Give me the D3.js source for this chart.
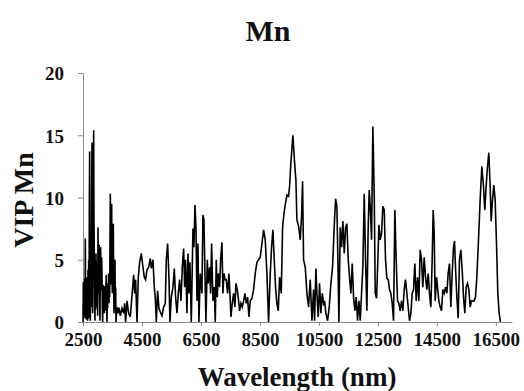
<!DOCTYPE html>
<html>
<head>
<meta charset="utf-8">
<script src="https://cdn.jsdelivr.net/npm/d3@7"></script>
<style>
  body { margin: 0; background: #fff; }
  svg text { font-family: "Liberation Serif", "Times New Roman", serif; font-weight: bold; fill: #111; }
</style>
</head>
<body>
<svg id="chart"></svg>
<script>
// wavelength (nm) and VIP values
const wavelength = [
  2500, 2511, 2523, 2534, 2545, 2556, 2568, 2579, 2590, 2602, 2613, 2624, 2636, 2647, 2658, 2670,
  2681, 2692, 2704, 2715, 2726, 2737, 2749, 2760, 2771, 2782, 2794, 2805, 2816, 2828, 2839, 2850,
  2862, 2873, 2884, 2895, 2907, 2918, 2930, 2941, 2952, 2964, 2975, 2986, 2998, 3009, 3020, 3031,
  3043, 3054, 3065, 3076, 3088, 3099, 3110, 3122, 3133, 3144, 3156, 3167, 3178, 3190, 3201, 3212,
  3223, 3235, 3246, 3257, 3269, 3280, 3291, 3302, 3314, 3325, 3336, 3348, 3359, 3370, 3382, 3393,
  3404, 3416, 3427, 3438, 3449, 3461, 3472, 3483, 3494, 3506, 3517, 3528, 3540, 3551, 3562, 3574,
  3585, 3596, 3608, 3619,
  3653, 3687, 3720, 3766, 3822, 3879,
  3913, 3946, 3992, 4048, 4105, 4161, 4218, 4252, 4285, 4331, 4376, 4421, 4478, 4523, 4579, 4624,
  4670, 4726, 4783, 4817, 4873, 4918, 4952, 4986, 5031, 5076, 5122, 5178, 5235, 5291, 5325, 5370,
  5415, 5449, 5495, 5551, 5596, 5641, 5687, 5732, 5777, 5822, 5867, 5913, 5947, 5980, 6026, 6060,
  6093, 6127, 6173, 6206, 6229, 6263, 6297, 6331, 6365, 6399, 6432, 6478, 6534, 6568, 6602, 6636,
  6670, 6715, 6749, 6794, 6828, 6862, 6907, 6952, 6986, 7020, 7054, 7088, 7133, 7167, 7212, 7246,
  7280, 7314, 7359, 7404, 7449, 7483, 7517, 7562, 7608, 7653, 7687, 7732, 7777, 7811, 7856, 7901,
  7947, 7992, 8037, 8082, 8127, 8173, 8229, 8286, 8342, 8399, 8455, 8512, 8568, 8625, 8681, 8738,
  8794, 8851, 8896, 8941, 8986, 9031, 9077, 9122, 9167, 9224, 9269, 9314, 9359, 9416, 9472, 9506,
  9551, 9619, 9676, 9721, 9755, 9812, 9868, 9913, 9947, 9981, 10038, 10094, 10151, 10207, 10264, 10320,
  10354, 10399, 10433, 10478, 10523, 10569, 10614, 10659, 10693, 10738, 10795, 10851, 10908, 10964, 11021, 11066,
  11111, 11145, 11179, 11224, 11269, 11314, 11360, 11405, 11450, 11495, 11540, 11586, 11631, 11676, 11721, 11766,
  11812, 11857, 11902, 11947, 11992, 12038, 12083, 12128, 12173, 12207, 12241, 12286, 12331, 12377, 12411, 12456,
  12501, 12535, 12580, 12625, 12670, 12716, 12761, 12806, 12851, 12896, 12942, 12987, 13032, 13077, 13122, 13168,
  13213, 13258, 13303, 13348, 13394, 13439, 13484, 13529, 13574, 13620, 13665, 13710, 13755, 13800, 13846, 13891,
  13936, 13981, 14026, 14072, 14117, 14162, 14207, 14252, 14298, 14343, 14377, 14411, 14445, 14490, 14524, 14569,
  14614, 14659, 14704, 14750, 14795, 14840, 14885, 14930, 14976, 15021, 15066, 15100, 15134, 15179, 15224, 15269,
  15315, 15360, 15405, 15450, 15495, 15541, 15586, 15631, 15676, 15721, 15767, 15812, 15857, 15914, 15970, 16027,
  16083, 16128, 16173, 16219, 16264, 16309, 16343, 16388, 16433, 16479, 16524, 16569, 16614, 16659
];
const vipMn = [
  0, 3.2, 0.5, 2.8, 1.2, 3.5, 0.3, 6.7, 0.8, 2.3, 0.2, 3.6, 1.0, 3.4, 0.1, 4.2,
  0.6, 5.0, 0.3, 9.5, 13.7, 2.0, 0.1, 5.5, 1.2, 3.9, 10.5, 14.4, 3.0, 0.7, 6.5, 12.0,
  15.4, 8.0, 5.0, 1.5, 0.1, 4.2, 1.0, 5.5, 2.5, 4.8, 1.2, 3.5, 0.5, 7.6, 3.8, 2.3,
  6.2, 5.8, 1.8, 0.1, 4.5, 6.0, 3.2, 2.5, 5.2, 3.9, 1.2, 0, 3.0, 1.0, 2.5, 1.5,
  0.7, 2.9, 1.3, 2.8, 0.9, 3.2, 3.8, 1.0, 0, 2.5, 1.1, 3.1, 2.0, 3.9, 1.5, 3.0,
  2.0, 6.5, 10.3, 3.0, 5.0, 8.0, 9.5, 4.5, 2.3, 5.5, 3.0, 7.9, 3.5, 0.7, 2.5, 1.0,
  5.0, 1.5, 2.8, 0,
  1.2, 0.7, 1.15, 0.5, 1.1, 0.7,
  1.5, 0, 1.7, 0.7, 0.4, 2.1, 3.8, 2.3, 3.4, 0, 3.6, 4.8, 5.5, 4.6, 3.6, 3.4,
  4.2, 4.4, 5.1, 4.3, 5.0, 2.8, 1.9, 0, 2.5, 1.1, 0.8, 0.5, 1.2, 1.5, 5.0, 6.3,
  3.6, 0, 2.0, 2.8, 4.3, 2.0, 0.7, 2.3, 3.4, 1.7, 4.4, 5.9, 2.8, 5.0, 0.7, 5.5,
  2.3, 4.8, 0, 4.4, 7.5, 6.0, 9.4, 7.6, 1.7, 6.3, 0, 3.9, 2.3, 8.6, 8.2, 3.9,
  0, 5.0, 3.1, 4.4, 2.3, 6.3, 1.7, 2.8, 0, 5.0, 2.0, 3.9, 2.8, 5.0, 6.4, 2.3,
  3.9, 3.4, 3.4, 2.3, 3.9, 2.3, 0.4, 1.5, 2.3, 1.2, 3.1, 2.6, 1.7, 0.9, 1.5, 1.2,
  1.7, 2.3, 1.5, 2.0, 0.4, 1.7, 1.9, 2.6, 3.9, 4.8, 5.0, 5.2, 6.3, 7.4, 6.6, 3.9,
  0, 3.9, 6.0, 7.4, 5.0, 2.8, 1.5, 0.9, 3.6, 2.3, 7.6, 8.7, 9.4, 10.2, 10.1, 10.9,
  12.8, 15.0, 12.8, 11.4, 8.2, 7.7, 6.6, 8.5, 11.3, 5.0, 4.4, 2.3, 1.2, 3.4, 0.1, 2.6,
  0.1, 4.3, 2.3, 0.4, 3.1, 0.7, 2.3, 1.5, 1.7, 0.7, 0.1, 1.2, 3.1, 4.4, 7.7, 9.9,
  9.3, 5.0, 0, 7.6, 6.0, 8.1, 5.5, 7.6, 7.9, 5.0, 3.6, 2.3, 4.7, 2.0, 0.9, 2.0,
  0.1, 1.7, 0.1, 2.3, 4.4, 10.3, 5.0, 0.9, 7.6, 10.6, 9.3, 6.6, 15.7, 10.3, 2.3, 1.9,
  5.0, 7.8, 6.6, 7.1, 9.3, 9.0, 5.0, 3.5, 3.4, 2.6, 2.3, 1.5, 0.1, 9.0, 5.0, 1.7,
  1.5, 0.9, 1.7, 0.9, 2.6, 3.4, 2.3, 1.2, 0.1, 0.7, 2.3, 2.6, 4.7, 1.7, 3.6, 1.7,
  5.8, 5.0, 2.8, 5.2, 3.6, 2.6, 3.9, 2.3, 1.2, 5.0, 9.0, 7.1, 1.7, 3.6, 2.8, 1.7,
  1.2, 0.9, 2.6, 2.3, 2.8, 2.3, 3.9, 4.7, 1.2, 3.9, 6.0, 6.5, 4.4, 2.0, 0.3, 5.0,
  5.8, 4.2, 2.0, 0.7, 2.8, 3.1, 2.6, 1.2, 1.7, 1.7, 1.7, 2.0, 3.6, 6.6, 9.8, 12.5,
  10.9, 9.0, 10.9, 12.5, 13.6, 10.9, 8.1, 9.8, 11.0, 9.8, 6.3, 2.3, 0.7, 0
];
const xTicks = [2500, 4500, 6500, 8500, 10500, 12500, 14500, 16500];
const yTicks = [0, 5, 10, 15, 20];

const svgWidth = 524;
const svgHeight = 391;
const margin = {top: 73, right: 12, bottom: 69, left: 83};
const width = svgWidth - margin.left - margin.right;
const height = svgHeight - margin.top - margin.bottom;

const data = wavelength.map((w, i) => ({w: w, v: vipMn[i]}));

const svg = d3.select('#chart')
  .attr('width', svgWidth)
  .attr('height', svgHeight);

const chart = svg.append('g')
  .attr('transform', `translate(${margin.left}, ${margin.top})`);

/********** scales **********/
const xScale = d3.scaleLinear()
  .domain([2500, 17050])
  .range([0, width]);

const yScale = d3.scaleLinear()
  .domain([0, 20])
  .range([height, 0]);

/********** axes **********/
const xAxis = chart.append('g')
  .attr('transform', `translate(0, ${height})`)
  .call(d3.axisBottom(xScale).tickValues(xTicks).tickFormat(d3.format('d'))
    .tickSize(4).tickSizeOuter(0).tickPadding(7));

const yAxis = chart.append('g')
  .call(d3.axisLeft(yScale).tickValues(yTicks).tickFormat(d3.format('d'))
    .tickSize(5).tickSizeOuter(0).tickPadding(14));

[xAxis, yAxis].forEach(ax => {
  ax.select('.domain').attr('stroke', '#8a8a8a');
  ax.selectAll('.tick line').attr('stroke', '#8a8a8a');
  ax.selectAll('.tick text')
    .style('font-family', '"Liberation Serif", serif')
    .style('font-weight', 'bold')
    .style('font-size', '19px')
    .attr('fill', '#111');
});
yAxis.selectAll('.tick text').attr('dy', '0.36em');

/********** line **********/
const line = d3.line()
  .x(d => xScale(d.w))
  .y(d => yScale(d.v));

chart.append('path')
  .datum(data)
  .attr('fill', 'none')
  .attr('stroke', '#000')
  .attr('stroke-width', 1.6)
  .attr('d', line);

/********** titles **********/
svg.append('text')
  .attr('x', 268)
  .attr('y', 41)
  .attr('text-anchor', 'middle')
  .style('font-size', '30px')
  .text('Mn');

svg.append('text')
  .attr('x', 297)
  .attr('y', 386)
  .attr('text-anchor', 'middle')
  .style('font-size', '27px')
  .text('Wavelength (nm)');

svg.append('text')
  .attr('transform', 'translate(33, 200) rotate(-90)')
  .attr('text-anchor', 'middle')
  .style('font-size', '28px')
  .text('VIP Mn');
</script>
</body>
</html>
